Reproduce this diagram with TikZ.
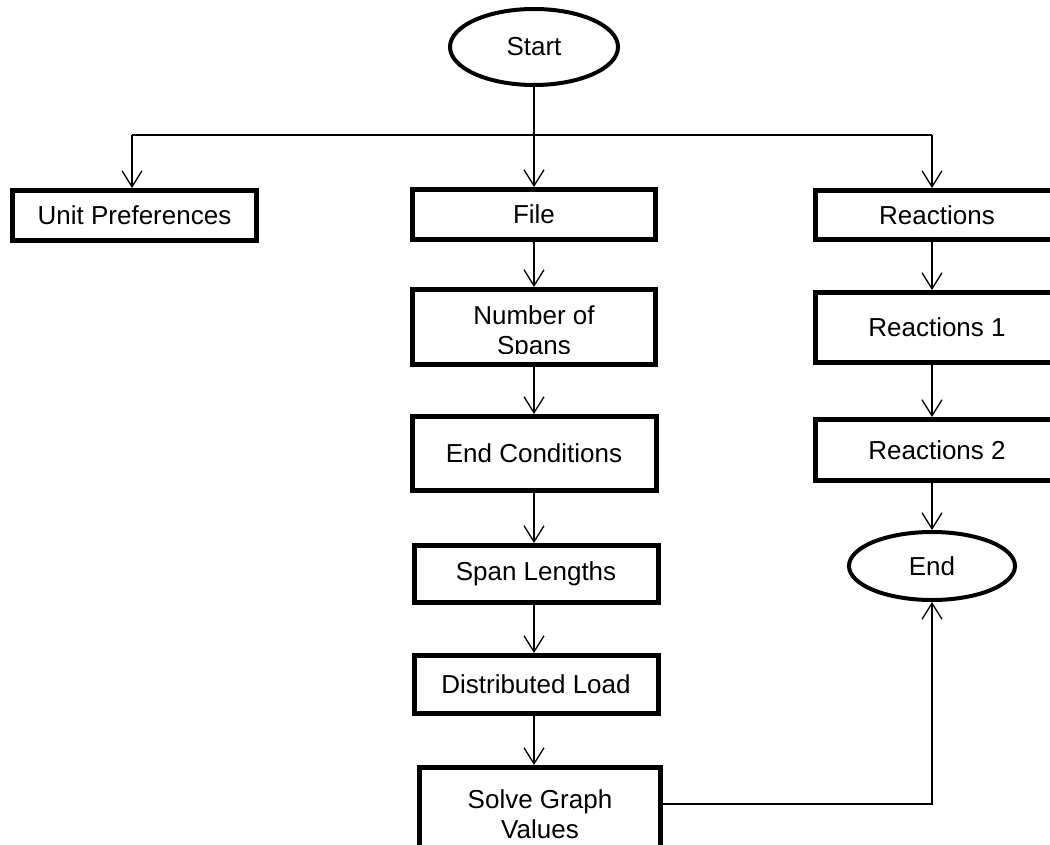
\documentclass[tikz,border=0pt]{standalone}
\usepackage{fontspec}
\setmainfont{Liberation Sans}
\usetikzlibrary{arrows.meta,shapes.geometric}
\begin{document}
\begin{tikzpicture}[x=1pt,y=-1pt,
  txt/.style={font=\fontsize{26}{30}\selectfont, align=center},
  box/.style={draw, line width=5pt, rectangle, inner sep=0pt, txt},
  oval/.style={draw, line width=4pt, ellipse, inner sep=0pt, txt},
  conn/.style={line width=1.3pt},
  arr/.style={conn, -{Straight Barb[length=16pt,width=20pt,line width=1.3pt]}}]
\path[use as bounding box, clip] (0,0) rectangle (1050,845);
\fill[white] (0,0) rectangle (1050,845);

\node[oval, minimum width=168pt, minimum height=76pt] (start) at (534,47) {Start};
\node[box, minimum width=244pt, minimum height=50pt] (unit) at (134.5,215.5) {Unit Preferences};
\node[box, minimum width=243pt, minimum height=50pt] (file) at (534,214.5) {File};
\node[box, minimum width=243pt, minimum height=75pt] (spans) at (534,327) {};
\node[box, minimum width=244pt, minimum height=74pt] (endc) at (534,453.5) {End Conditions};
\node[box, minimum width=244pt, minimum height=57pt] (slen) at (536,574) {Span Lengths};
\node[box, minimum width=244pt, minimum height=58pt] (dload) at (536,684.5) {Distributed Load};
\node[box, minimum width=241pt, minimum height=93pt] (solve) at (540,814) {Solve Graph\\Values};
\node[box, minimum width=243pt, minimum height=49pt] (reac) at (937,215) {Reactions};
\node[box, minimum width=243pt, minimum height=70pt] (reac1) at (937,327.5) {Reactions 1};
\node[box, minimum width=243pt, minimum height=61pt] (reac2) at (937,450) {Reactions 2};
\node[oval, minimum width=166pt, minimum height=68pt] (end) at (932,566) {End};

\begin{scope}
  \clip (400,280) rectangle (670,353);
  \node[txt] (spanstext) at (534,333) {Number of\\Spans};
\end{scope}

\coordinate (jl) at (132,135);
\coordinate (jm) at (534,135);
\coordinate (jr) at (932,135);
\draw[conn] (start.south) -- (jm);
\draw[conn] (jl) -- (jr);
\draw[arr] (jl) -- (jl |- unit.north);
\draw[arr] (jm) -- (jm |- file.north);
\draw[arr] (jr) -- (jr |- reac.north);

\draw[arr] (file.south -| jm) -- (jm |- spans.north);
\draw[arr] (spans.south -| jm) -- (jm |- endc.north);
\draw[arr] (endc.south -| jm) -- (jm |- slen.north);
\draw[arr] (slen.south -| jm) -- (jm |- dload.north);
\draw[arr] (dload.south -| jm) -- (jm |- solve.north);

\draw[arr] (reac.south -| jr) -- (jr |- reac1.north);
\draw[arr] (reac1.south -| jr) -- (jr |- reac2.north);
\draw[arr] (reac2.south -| end.north) -- (end.north);

\draw[arr] ([yshift=10pt]solve.east) -| (end.south);
\end{tikzpicture}
\end{document}
